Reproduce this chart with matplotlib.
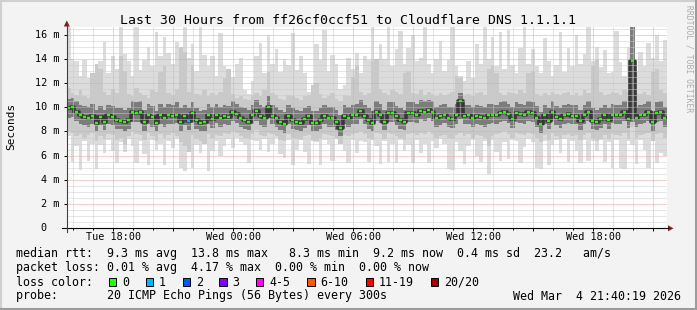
import numpy as np
import matplotlib
matplotlib.use('Agg')
import matplotlib.pyplot as plt
import matplotlib.dates as mdates
import matplotlib.transforms as mtransforms
from matplotlib.ticker import MultipleLocator, FuncFormatter
from matplotlib.patches import Polygon, Rectangle
from matplotlib.lines import Line2D

# --- data: 12 minute slots from Tue 15:40 to Wed 21:40 (values in ms) ---
start = np.datetime64('2026-03-03T15:40')
slot = np.timedelta64(12, 'm')

median = [
    9.9, 10.0, 9.6, 9.35, 9.2, 9.1, 9.3, 8.7, 9.2, 8.8,
    9.35, 9.2, 8.95, 8.9, 8.8, 8.95, 9.6, 9.5, 9.6, 8.8,
    9.35, 9.2, 8.7, 9.35, 9.1, 9.35, 9.3, 9.4, 8.8, 9.25,
    8.9, 9.5, 8.95, 8.7, 8.8, 9.4, 9.05, 9.4, 9.1, 9.3,
    9.2, 9.6, 9.45, 9.1, 8.95, 8.8, 9.35, 9.7, 9.25, 9.1,
    10.0, 9.3, 9.1, 8.8, 8.6, 9.3, 8.95, 8.8, 8.7, 9.0,
    9.25, 8.7, 8.7, 8.95, 9.3, 9.15, 9.1, 8.8, 8.3, 9.3,
    9.1, 9.35, 9.35, 9.7, 9.3, 8.95, 8.7, 9.6, 9.4, 8.8,
    9.55, 9.55, 9.25, 8.95, 8.8, 9.5, 9.55, 9.4, 9.7, 9.6,
    9.8, 9.6, 9.1, 9.25, 9.4, 9.1, 9.05, 9.35, 10.5, 9.3,
    9.35, 9.1, 9.3, 9.2, 9.1, 9.35, 9.4, 9.35, 9.5, 9.65,
    9.45, 9.05, 9.5, 9.45, 9.35, 9.6, 9.5, 9.15, 8.6, 9.35,
    8.9, 9.6, 9.2, 9.0, 9.35, 9.45, 9.3, 9.3, 8.85, 9.35,
    9.65, 8.9, 8.8, 9.0, 9.35, 8.95, 9.4, 9.35, 9.35, 9.6,
    9.0, 13.8, 9.1, 9.35, 9.4, 9.6, 8.75, 9.55, 9.65, 9.1,
]

ping_max = [
    16.8, 14.0, 13.8, 12.6, 13.9, 12.4, 11.6, 12.3, 13.8, 15.4,
    12.8, 14.2, 13.2, 16.6, 14.4, 13.8, 12.6, 16.6, 13.1, 13.9,
    15.0, 13.4, 16.2, 14.2, 15.8, 14.5, 13.6, 15.4, 12.9, 16.6,
    14.1, 15.2, 13.0, 16.6, 14.3, 13.4, 14.2, 12.6, 16.1, 13.4,
    13.2, 12.5, 13.6, 14.1, 11.4, 11.1, 12.2, 14.2, 15.3, 12.8,
    16.0, 13.6, 14.8, 12.9, 14.0, 13.5, 16.1, 13.1, 14.2, 12.8,
    11.3, 11.6, 15.2, 13.9, 16.4, 13.0, 14.3, 13.6, 11.5, 11.8,
    14.1, 13.2, 14.5, 12.8, 14.2, 13.9, 16.6, 13.5, 15.2, 14.0,
    16.6, 13.4, 14.8, 16.3, 13.6, 14.9, 16.0, 13.8, 14.1, 16.6,
    13.6, 12.8, 14.0, 15.5, 13.0, 13.9, 16.6, 13.4, 12.6, 12.2,
    13.8, 12.4, 15.2, 13.6, 16.6, 14.0, 15.8, 13.4, 16.2, 13.2,
    16.4, 13.5, 12.8, 14.9, 16.6, 13.6, 14.8, 13.4, 12.8, 15.7,
    13.8, 12.6, 13.5, 16.2, 12.9, 14.9, 13.4, 16.0, 13.6, 14.4,
    16.6, 13.8, 15.0, 13.3, 14.7, 12.8, 12.9, 16.3, 13.7, 12.6,
    15.0, 16.8, 13.0, 14.6, 13.4, 15.3, 14.1, 16.0, 13.8, 15.6,
]

ping_min = [
    7.6, 5.5, 6.8, 4.8, 7.2, 5.6, 7.0, 4.9, 6.9, 6.2,
    7.3, 6.4, 5.4, 7.1, 6.3, 7.4, 6.8, 5.4, 7.2, 6.1,
    5.2, 7.3, 6.5, 7.0, 5.2, 7.2, 6.6, 7.4, 5.0, 4.7,
    7.1, 5.0, 6.9, 6.2, 7.3, 4.7, 6.4, 7.2, 6.0, 6.8,
    7.4, 6.6, 7.5, 7.1, 6.9, 5.4, 7.3, 7.2, 6.5, 7.4,
    6.3, 7.0, 7.5, 6.1, 5.8, 7.3, 5.2, 6.5, 7.4, 6.3,
    5.3, 7.2, 7.1, 5.2, 7.3, 7.0, 5.6, 7.4, 7.3, 6.4,
    5.4, 7.3, 6.2, 7.2, 7.1, 5.5, 7.4, 6.8, 5.3, 7.2,
    5.5, 7.0, 5.4, 7.3, 6.4, 6.9, 5.4, 7.3, 6.2, 7.0,
    5.4, 7.2, 6.6, 7.4, 7.0, 4.9, 4.8, 7.1, 6.4, 5.3,
    6.8, 7.3, 6.0, 5.5, 7.2, 4.5, 7.3, 6.3, 5.6, 7.1,
    5.7, 7.3, 7.2, 5.4, 6.7, 7.4, 7.1, 5.0, 4.9, 7.2,
    5.2, 6.9, 7.3, 6.2, 7.4, 5.5, 7.2, 6.4, 5.4, 7.3,
    5.6, 7.2, 6.4, 7.3, 5.5, 7.1, 5.0, 7.3, 5.0, 4.9,
    7.2, 6.9, 5.3, 7.3, 6.5, 5.0, 7.2, 5.4, 6.2, 6.0,
]

# outer smoke layers (pings ranked 3rd..18th)
smoke_hi = [
    11.6, 11.2, 11.0, 11.4, 10.9, 10.8, 12.8, 13.6, 13.2, 11.3,
    11.0, 11.5, 11.2, 14.2, 13.0, 11.1, 10.9, 11.6, 11.2, 11.0,
    10.8, 11.4, 11.3, 12.9, 13.4, 11.2, 11.0, 11.5, 15.0, 14.6,
    11.3, 13.5, 11.1, 11.0, 11.4, 10.9, 11.2, 11.0, 11.3, 12.4,
    13.2, 11.1, 10.8, 10.9, 10.7, 10.6, 11.0, 11.2, 10.9, 11.4,
    12.9, 11.2, 11.0, 10.7, 10.6, 11.0, 10.9, 10.8, 10.6, 10.9,
    11.0, 11.8, 12.0, 11.1, 10.8, 10.9, 11.2, 10.7, 10.5, 11.0,
    10.9, 12.5, 13.5, 11.3, 11.0, 11.2, 13.8, 14.0, 11.5, 11.2,
    11.0, 11.4, 11.3, 11.1, 12.8, 13.0, 11.2, 11.1, 11.4, 11.0,
    11.3, 11.1, 10.9, 11.2, 11.0, 11.1, 11.3, 12.6, 12.4, 11.0,
    11.1, 10.9, 11.2, 11.3, 11.0, 13.2, 13.4, 12.8, 11.2, 11.0,
    11.3, 11.2, 11.1, 11.4, 11.2, 12.8, 13.0, 11.1, 10.9, 11.2,
    11.0, 11.3, 11.1, 11.0, 11.2, 11.3, 11.0, 11.2, 10.9, 11.4,
    11.2, 13.4, 13.9, 11.3, 11.0, 11.1, 11.3, 11.2, 11.0, 11.4,
    11.3, 16.8, 11.2, 11.1, 11.3, 11.0, 12.9, 13.2, 11.4, 11.2,
]

smoke_lo = [
    8.0, 7.9, 7.6, 7.8, 7.5, 7.7, 7.9, 7.2, 7.6, 7.4,
    7.8, 7.7, 7.3, 7.5, 6.9, 7.6, 8.0, 7.8, 7.7, 7.3,
    7.9, 7.6, 7.2, 7.8, 7.5, 7.7, 7.9, 7.6, 7.1, 6.8,
    6.3, 7.7, 7.4, 7.2, 7.0, 7.8, 7.5, 7.7, 7.6, 7.9,
    7.8, 8.0, 7.9, 7.6, 7.5, 7.4, 7.8, 8.1, 7.7, 7.6,
    7.9, 7.8, 7.6, 7.3, 7.2, 7.8, 7.5, 7.4, 7.3, 7.6,
    7.7, 7.3, 7.2, 7.5, 7.8, 7.7, 7.6, 7.4, 7.0, 7.7,
    7.6, 7.8, 7.9, 8.0, 7.8, 7.5, 7.3, 7.9, 7.8, 7.4,
    7.9, 7.8, 7.6, 7.5, 7.3, 7.8, 7.9, 7.7, 7.9, 7.8,
    8.0, 7.8, 7.5, 7.6, 7.7, 7.5, 7.4, 7.7, 7.9, 7.6,
    7.8, 7.5, 7.7, 7.6, 7.5, 6.8, 7.6, 7.8, 7.9, 8.0,
    7.8, 7.5, 7.9, 7.8, 7.7, 7.9, 7.8, 7.5, 7.1, 7.7,
    7.3, 7.9, 7.6, 7.4, 7.7, 7.8, 7.6, 7.7, 7.3, 7.7,
    7.9, 7.4, 7.2, 7.4, 7.7, 7.4, 7.8, 7.7, 7.6, 7.9,
    7.4, 8.4, 7.5, 7.7, 7.8, 7.9, 7.2, 7.8, 7.9, 7.5,
]

# inner smoke layers (pings ranked 7th..14th)
core_hi = [
    10.7, 10.8, 10.5, 10.2, 10.1, 10.0, 10.3, 9.8, 10.1, 9.8,
    10.2, 10.1, 9.9, 9.9, 9.8, 9.9, 10.5, 10.4, 10.5, 9.8,
    10.3, 10.1, 9.7, 10.3, 10.0, 10.3, 10.2, 10.4, 9.9, 10.2,
    9.9, 10.4, 9.9, 9.7, 9.8, 10.3, 10.0, 10.3, 10.0, 10.2,
    10.1, 10.5, 10.3, 10.0, 9.9, 9.8, 10.2, 10.6, 10.2, 10.0,
    10.9, 10.2, 10.0, 9.8, 9.6, 10.2, 9.9, 9.8, 9.7, 9.9,
    10.1, 9.7, 9.7, 9.9, 10.2, 10.0, 10.0, 9.8, 9.4, 10.2,
    10.0, 10.2, 10.3, 10.6, 10.2, 9.9, 9.7, 10.5, 10.3, 9.8,
    10.4, 10.4, 10.1, 9.9, 9.8, 10.4, 10.4, 10.3, 10.6, 10.5,
    10.6, 10.5, 10.0, 10.2, 10.3, 10.0, 10.0, 10.3, 11.2, 10.2,
    10.2, 10.0, 10.2, 10.1, 10.0, 10.3, 10.3, 10.2, 10.4, 10.5,
    10.3, 10.0, 10.4, 10.3, 10.2, 10.5, 10.4, 10.1, 9.6, 10.2,
    9.9, 10.5, 10.1, 9.9, 10.2, 10.3, 10.2, 10.2, 9.8, 10.2,
    10.5, 9.9, 9.8, 9.9, 10.2, 9.9, 10.3, 10.2, 10.2, 10.5,
    9.9, 16.8, 10.0, 10.2, 10.3, 10.5, 9.7, 10.4, 10.5, 10.0,
]

core_lo = [
    9.1, 9.2, 8.9, 8.6, 8.5, 8.4, 8.6, 8.0, 8.5, 8.1,
    8.6, 8.5, 8.2, 8.2, 8.0, 8.2, 8.8, 8.8, 8.8, 8.0,
    8.6, 8.4, 8.0, 8.6, 8.4, 8.6, 8.6, 8.7, 8.0, 8.5,
    8.1, 8.7, 8.2, 8.0, 8.0, 8.6, 8.3, 8.7, 8.4, 8.6,
    8.5, 8.9, 8.7, 8.4, 8.2, 8.1, 8.6, 8.9, 8.5, 8.4,
    9.1, 8.6, 8.4, 8.1, 7.9, 8.6, 8.2, 8.1, 8.0, 8.3,
    8.5, 8.0, 8.0, 8.2, 8.6, 8.4, 8.4, 8.1, 7.6, 8.6,
    8.4, 8.6, 8.6, 9.0, 8.6, 8.2, 8.0, 8.9, 8.7, 8.1,
    8.8, 8.8, 8.5, 8.2, 8.1, 8.8, 8.8, 8.7, 9.0, 8.9,
    9.1, 8.9, 8.4, 8.5, 8.7, 8.4, 8.3, 8.6, 9.0, 8.6,
    8.6, 8.4, 8.6, 8.5, 8.4, 8.6, 8.7, 8.6, 8.8, 8.9,
    8.7, 8.3, 8.8, 8.7, 8.6, 8.9, 8.8, 8.4, 7.9, 8.6,
    8.2, 8.9, 8.5, 8.3, 8.6, 8.7, 8.6, 8.6, 8.1, 8.6,
    8.9, 8.2, 8.1, 8.3, 8.6, 8.2, 8.7, 8.6, 8.6, 8.9,
    8.3, 8.8, 8.4, 8.6, 8.7, 8.9, 8.0, 8.8, 8.9, 8.4,
]

# slots where pings were lost (slot index -> lost pings of 20)
lost_pings = {30: 1}

loss_labels = ['0', '1', '2', '3', '4-5', '6-10', '11-19', '20/20']
loss_colors = ['#26FF00', '#00B8FF', '#0059FF', '#7E00FF', '#FF00FF',
               '#FF5500', '#FF0000', '#A10000']
loss_upper = [0, 1, 2, 3, 5, 10, 19, 20]

title = 'Last 30 Hours from ff26cf0ccf51 to Cloudflare DNS 1.1.1.1'
rtt_line = 'median rtt:  9.3 ms avg  13.8 ms max   8.3 ms min  9.2 ms now  0.4 ms sd  23.2   am/s'
loss_line = 'packet loss: 0.01 % avg  4.17 % max  0.00 % min  0.00 % now'
probe_line = 'probe:       20 ICMP Echo Pings (56 Bytes) every 300s'
stamp = 'Wed Mar  4 21:40:19 2026'

# --- figure -------------------------------------------------------------
W, H = 697, 310
plt.rcParams['font.family'] = 'DejaVu Sans Mono'


def fx(px):
    return px / W


def fy(py):
    return 1 - py / H


fig = plt.figure(figsize=(W / 100, H / 100), dpi=100, facecolor='#F3F3F3')
ax = fig.add_axes([fx(66.5), fy(228.3), 600 / W, (228.3 - 27.4) / H])
ax.set_facecolor('white')

n = len(median)
edges = mdates.date2num(start + slot * np.arange(n + 1))
dx = edges[1] - edges[0]


def ext(a):
    a = np.asarray(a, dtype=float)
    return np.append(a, a[-1])


ax.fill_between(edges, ext(ping_min), ext(ping_max), step='post',
                color='#DCDCDC', lw=0, zorder=1.0)
ax.fill_between(edges, ext(smoke_lo), ext(smoke_hi), step='post',
                color='#C9C9C9', lw=0, zorder=1.1)
ax.fill_between(edges, ext(core_lo), ext(core_hi), step='post',
                color='#7C7C7C', lw=0, zorder=1.2)
ax.step(edges, ext(median), where='post', color='#383838', lw=2.6,
        zorder=1.3)

cols = []
for i in range(n):
    lost = lost_pings.get(i, 0)
    k = next(j for j, u in enumerate(loss_upper) if lost <= u)
    cols.append(loss_colors[k])
ax.hlines(median, edges[:-1] + 0.2 * dx, edges[1:] - 0.2 * dx,
          colors=cols, lw=1.7, zorder=4)

ax.set_xlim(edges[0], mdates.date2num(start + np.timedelta64(30, 'h')))
ax.set_ylim(0, 16.6)

ax.xaxis.set_major_locator(mdates.HourLocator(byhour=range(0, 24, 3)))
ax.xaxis.set_minor_locator(mdates.HourLocator())


def xfmt(v, pos):
    d = mdates.num2date(v)
    return d.strftime('%a %H:%M') if d.hour % 6 == 0 else ''


ax.xaxis.set_major_formatter(FuncFormatter(xfmt))
ax.yaxis.set_major_locator(MultipleLocator(2))
ax.yaxis.set_minor_locator(MultipleLocator(0.5))

ax.set_axisbelow(False)
ax.grid(which='major', color='#F2A0A0', lw=0.72, ls=(0, (1, 1)))
ax.grid(which='minor', color='#CCCCCC', lw=0.72, ls=(0, (1, 1)))

ax.tick_params(axis='x', which='major', length=2.2, width=0.72, pad=0.8,
               labelsize=7.3, direction='out')
ax.tick_params(axis='x', which='minor', length=1.4, width=0.72,
               direction='out')
ax.tick_params(axis='y', which='major', length=2.2, width=0.72,
               labelleft=False, direction='out')
ax.tick_params(axis='y', which='minor', length=0)
for s in ax.spines.values():
    s.set_visible(False)

# y tick labels
ytr = mtransforms.blended_transform_factory(fig.transFigure, ax.transData)
for v in range(0, 17, 2):
    if v:
        ax.text(fx(59.8), v, f'{v} m', transform=ytr, ha='right',
                va='center', fontsize=7.3)
    else:
        ax.text(fx(46.2), v, '0', transform=ytr, ha='right',
                va='center', fontsize=7.3)

# axes lines and arrows
fig.add_artist(Line2D([fx(62), fx(668)], [fy(228.3), fy(228.3)],
                      color='black', lw=0.8))
fig.add_artist(Line2D([fx(66.8), fx(66.8)], [fy(231.5), fy(24)],
                      color='#404040', lw=0.8))
fig.add_artist(Polygon([(fx(668), fy(225.3)), (fx(668), fy(231.3)),
                        (fx(673.5), fy(228.3))], closed=True,
                       color='#8B1A1A', lw=0))
fig.add_artist(Polygon([(fx(63.8), fy(26.5)), (fx(69.8), fy(26.5)),
                        (fx(66.8), fy(20.5))], closed=True,
                       color='#8B1A1A', lw=0))

# titles
fig.text(fx(348), fy(23.5), title, ha='center', va='baseline', fontsize=9.5)
fig.text(fx(11), fy(126.5), 'Seconds', rotation=90, ha='center',
         va='center', fontsize=8.0)
fig.text(fx(688.5), fy(59), 'RRDTOOL / TOBI OETIKER', rotation=270,
         ha='center', va='center', fontsize=5.8, color='#ABABAB')

# legend
LX = 16.0
fig.text(fx(LX), fy(257.5), rtt_line, ha='left', va='baseline', fontsize=8.4)
fig.text(fx(LX), fy(271.5), loss_line, ha='left', va='baseline', fontsize=8.4)
fig.text(fx(LX), fy(285.5), 'loss color:', ha='left', va='baseline',
         fontsize=8.4)
box_x = [109, 146, 182.7, 219.3, 256, 307.3, 366, 431]
for bx, lab, c in zip(box_x, loss_labels, loss_colors):
    fig.add_artist(Rectangle((fx(bx), fy(285.5)), 7.3 / W, 7.3 / H,
                             facecolor=c, edgecolor='black', lw=0.7))
    fig.text(fx(bx + 13.0), fy(285.5), lab, ha='left', va='baseline',
             fontsize=8.4)
fig.text(fx(LX), fy(299.5), probe_line, ha='left', va='baseline',
         fontsize=8.4)
fig.text(fx(681), fy(299.5), stamp, ha='right', va='baseline', fontsize=8.4)

# frame
fig.add_artist(Line2D([0, 1], [fy(0.8), fy(0.8)], color='#CFCFCF', lw=1.5))
fig.add_artist(Line2D([fx(0.8), fx(0.8)], [0, 1], color='#CFCFCF', lw=1.5))
fig.add_artist(Line2D([fx(696.2), fx(696.2)], [0, 1], color='#9C9C9C', lw=1.5))
fig.add_artist(Line2D([0, 1], [fy(309.2), fy(309.2)], color='#9C9C9C', lw=1.5))

fig.savefig('out.png', dpi=100, facecolor=fig.get_facecolor())
